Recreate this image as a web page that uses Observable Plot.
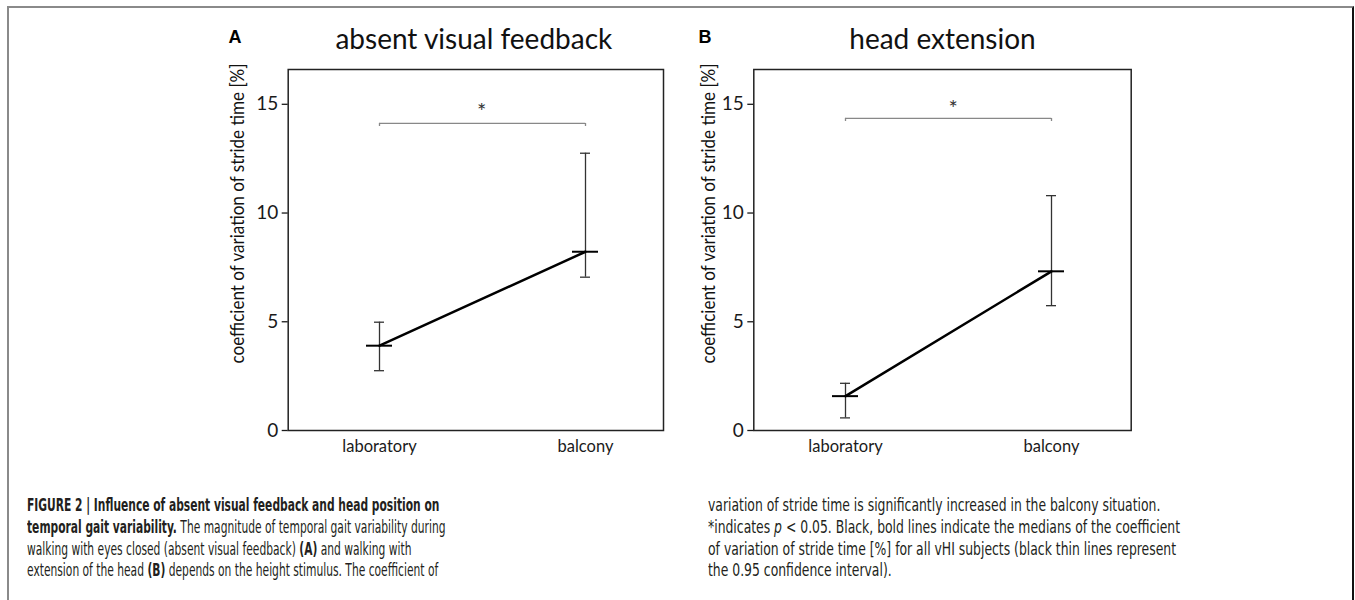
<!DOCTYPE html>
<html><head><meta charset="utf-8">
<script src="https://cdn.jsdelivr.net/npm/d3@7"></script>
<script src="https://cdn.jsdelivr.net/npm/@observablehq/plot@0.6"></script>
<style>
html,body{margin:0;padding:0;background:#fff;}
#page{position:relative;width:1355px;height:600px;overflow:hidden;}
#border{position:absolute;left:7px;top:6px;width:1347px;height:700px;border-top:2px solid #8a8a8a;border-left:2px solid #8a8a8a;border-right:2px solid #111;box-sizing:border-box;}
.panel{position:absolute;top:0;}
.cap{position:absolute;white-space:nowrap;font-family:"Liberation Sans Narrow","Arial Narrow","DejaVu Sans Condensed","Liberation Sans",sans-serif;font-size:17.5px;line-height:21.7px;color:#231f20;transform-origin:0 0;}
</style></head>
<body><div id="page"><div id="border"></div>
<div id="panelA" class="panel" style="left:180px"></div>
<div id="panelB" class="panel" style="left:650px"></div>
<div id="caption"></div>
</div>
<script>
// ---- data ----
const conditions = ["laboratory", "balcony"];
const yTicks = [0, 5, 10, 15];
const yMax = 16.6;
const yLabel = "coefficient of variation of stride time [%]";

const titleA = "absent visual feedback";
const medianA = [3.9, 8.22];
const lowerA = [2.75, 7.05];
const upperA = [4.98, 12.75];
const sigA = 14.12;

const titleB = "head extension";
const medianB = [1.58, 7.32];
const lowerB = [0.58, 5.74];
const upperB = [2.17, 10.8];
const sigB = 14.35;

const captionLeft = [
  "<b>FIGURE 2 | Influence of absent visual feedback and head position on</b>",
  "<b>temporal gait variability.</b> The magnitude of temporal gait variability during",
  "walking with eyes closed (absent visual feedback) <b>(A)</b> and walking with",
  "extension of the head <b>(B)</b> depends on the height stimulus. The coefficient of"
];
const captionRight = [
  "variation of stride time is significantly increased in the balcony situation.",
  "*indicates <i>p</i> &lt; 0.05. Black, bold lines indicate the medians of the coefficient",
  "of variation of stride time [%] for all vHI subjects (black thin lines represent",
  "the 0.95 confidence interval)."
];

function panel(o) {
  const rows = conditions.map((c, i) => ({condition: c, median: o.median[i], lower: o.lower[i], upper: o.upper[i]}));
  const cap = (y, half, stroke, sw) => Plot.ruleY(rows, {y, x1: "condition", x2: "condition", insetLeft: -half, insetRight: -half, stroke, strokeWidth: sw});
  const svg = Plot.plot({
    width: 500, height: 470,
    marginTop: 69, marginBottom: 40, marginLeft: o.marginLeft, marginRight: o.marginRight,
    style: {background: "transparent", color: "#1a1a1a", fontFamily: "Lato, 'Open Sans', sans-serif", overflow: "visible"},
    x: {type: "point", domain: conditions, padding: 0, insetLeft: o.insetLeft, insetRight: o.insetRight},
    y: {domain: [0, yMax]},
    marks: [
      Plot.frame({stroke: "#222", strokeWidth: 1.5}),
      Plot.axisY({ticks: yTicks, tickSize: 6, tickPadding: 4, fontSize: 19, label: null, strokeWidth: 1.3}),
      Plot.axisX({tickSize: 0, tickPadding: 10, fontSize: 16.5, label: null}),
      Plot.ruleY([o.sig], {y: d => d, x1: () => conditions[0], x2: () => conditions[1], stroke: "#888", strokeWidth: 1.3}),
      Plot.ruleX(conditions, {x: d => d, y1: o.sig, y2: o.sig - 0.14, stroke: "#888", strokeWidth: 1.3}),
      Plot.text([o.sig], {y: d => d, text: () => "*", dx: o.starDx, dy: o.starDy, fontSize: 22, fill: "#333"}),
      Plot.ruleX(rows, {x: "condition", y1: "lower", y2: "upper", stroke: "#333", strokeWidth: 1.3}),
      cap("lower", 5, "#333", 1.3),
      cap("upper", 5, "#333", 1.3),
      Plot.line(rows, {x: "condition", y: "median", stroke: "#000", strokeWidth: 2.5}),
      cap("median", 13, "#000", 2),
      Plot.text([o.title], {frameAnchor: "top", dx: o.titleDx, dy: -21, lineAnchor: "bottom", fontSize: 28, fill: "#111"}),
      Plot.text([o.letter], {frameAnchor: "top-left", dx: o.letterDx, dy: -27, textAnchor: "start", lineAnchor: "bottom", fontSize: 18, fontWeight: "bold", fontFamily: "'Liberation Sans', Arial, sans-serif", fill: "#000"}),
      Plot.text([yLabel], {frameAnchor: "top-left", rotate: -90, textAnchor: "end", dx: o.labelDx, dy: -6, fontSize: 19.5, fill: "#111"})
    ]
  });
  // fit the rotated axis label to its length in the original figure
  svg.querySelectorAll("text").forEach(t => {
    if (t.textContent === yLabel) { t.setAttribute("textLength", 300); t.setAttribute("lengthAdjust", "spacingAndGlyphs"); }
  });
  return svg;
}

document.getElementById("panelA").appendChild(panel({
  letter: "A", title: titleA, median: medianA, lower: lowerA, upper: upperA, sig: sigA,
  marginLeft: 107.7, marginRight: 17, insetLeft: 91.3, insetRight: 77.3,
  titleDx: -2, letterDx: -59.7, labelDx: -58, starDx: 5.7, starDy: -11
}));
document.getElementById("panelB").appendChild(panel({
  letter: "B", title: titleB, median: medianB, lower: lowerB, upper: upperB, sig: sigB,
  marginLeft: 103.3, marginRight: 19.3, insetLeft: 91.7, insetRight: 79,
  titleDx: 0, letterDx: -55.3, labelDx: -52.8, starDx: 10.7, starDy: -9.3
}));

// ---- caption ----
const capEl = document.getElementById("caption");
const baselines = [511.7, 533.4, 555.1, 576.8];
function column(lines, left, targetWidth) {
  const els = lines.map((html, i) => {
    const d = document.createElement("div");
    d.className = "cap";
    d.innerHTML = html;
    d.style.left = left + "px";
    d.style.top = (baselines[i] - 16.6) + "px";
    capEl.appendChild(d);
    return d;
  });
  const w = els[1].getBoundingClientRect().width;
  const k = targetWidth / w;
  els.forEach(d => d.style.transform = `scaleX(${k})`);
}
column(captionLeft, 26.5, 418.5);
column(captionRight, 708, 472);
</script>
</body></html>
